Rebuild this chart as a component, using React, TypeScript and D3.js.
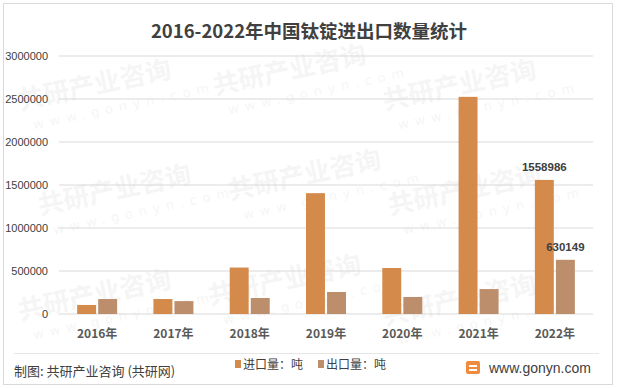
import React from 'react';
import * as d3 from 'd3';

const WIDTH = 617;
const HEIGHT = 389;

const MARGIN = { top: 56, right: 24, bottom: 75, left: 59 };

const years = ['2016年', '2017年', '2018年', '2019年', '2020年', '2021年', '2022年'];
const importValues = [105000, 174000, 540000, 1405000, 535000, 2525000, 1558986];
const exportValues = [174000, 150000, 186000, 256000, 198000, 290000, 630149];
const yTicks = [0, 500000, 1000000, 1500000, 2000000, 2500000, 3000000];
const labelledYear = '2022年';

const IMPORT_COLOR = '#D38A4B';
const EXPORT_COLOR = '#BD8E6C';
const FONT = '"Noto Sans CJK SC", "Noto Sans", sans-serif';

// faint background watermark positions
const watermarks = [
  [20, 110], [215, 95], [385, 110], [40, 215], [230, 200], [390, 215],
  [20, 320], [210, 305], [385, 325],
];

export default function App() {
  const x = d3.scaleBand()
    .domain(years)
    .range([MARGIN.left, WIDTH - MARGIN.right])
    .paddingInner(0)
    .paddingOuter(0);

  const y = d3.scaleLinear()
    .domain([0, 3000000])
    .range([HEIGHT - MARGIN.bottom, MARGIN.top]);

  const series = ['import', 'export'];
  const sub = d3.scaleBand()
    .domain(series)
    .range([0, 40])
    .paddingInner(0.1);

  const barOffset = (x.bandwidth() - 40) / 2;

  return (
    <svg width={WIDTH} height={HEIGHT} style={{ position: 'absolute', left: 0, top: 0, background: '#fff' }}>
      <rect x={3.5} y={3.5} width={609} height={381} fill="#fff" stroke="#d9d9d9" />

      {watermarks.map(([wx, wy], i) => (
        <g key={i} transform={`translate(${wx},${wy}) rotate(-12)`} opacity={0.035}>
          <text fontFamily={FONT} fontSize={26} fontWeight="bold" fill="#000">共研产业咨询</text>
          <text x={10} y={22} fontFamily="DejaVu Sans" fontSize={13} letterSpacing={6} fill="#000">www.gonyn.com</text>
        </g>
      ))}

      <text x={309} y={38} textAnchor="middle" fontFamily={FONT} fontWeight="bold" fontSize={18.5} fill="#404040">
        2016-2022年中国钛锭进出口数量统计
      </text>

      {yTicks.map(t => (
        <g key={t}>
          <line x1={MARGIN.left} x2={WIDTH - MARGIN.right} y1={y(t)} y2={y(t)} stroke="#d9d9d9" strokeWidth={1} />
          <text x={48} y={y(t)} dy="0.35em" textAnchor="end" fontFamily="Liberation Sans, sans-serif" fontSize={11} fill="#404040">
            {t}
          </text>
        </g>
      ))}

      {years.map((yr, i) => {
        const x0 = (x(yr) as number) + barOffset;
        return (
          <g key={yr}>
            <rect x={x0 + (sub('import') as number)} y={y(importValues[i])} width={sub.bandwidth()}
              height={y(0) - y(importValues[i])} fill={IMPORT_COLOR} />
            <rect x={x0 + (sub('export') as number)} y={y(exportValues[i])} width={sub.bandwidth()}
              height={y(0) - y(exportValues[i])} fill={EXPORT_COLOR} />
            <text x={(x(yr) as number) + x.bandwidth() / 2} y={338} textAnchor="middle"
              fontFamily={FONT} fontWeight="bold" fontSize={12} fill="#595959">
              {yr}
            </text>
            {yr === labelledYear && (
              <>
                <text x={x0 + (sub('import') as number) + sub.bandwidth() / 2} y={y(importValues[i]) - 9}
                  textAnchor="middle" fontFamily="Liberation Sans, sans-serif" fontWeight="bold" fontSize={11.5} fill="#404040">
                  {importValues[i]}
                </text>
                <text x={x0 + (sub('export') as number) + sub.bandwidth() / 2} y={y(exportValues[i]) - 9}
                  textAnchor="middle" fontFamily="Liberation Sans, sans-serif" fontWeight="bold" fontSize={11.5} fill="#404040">
                  {exportValues[i]}
                </text>
              </>
            )}
          </g>
        );
      })}

      <line x1={14} x2={599} y1={353.5} y2={353.5} stroke="#e6e6e6" />
      <text x={14} y={376} fontFamily={FONT} fontSize={13} fill="#404040">制图: 共研产业咨询 (共研网)</text>

      <rect x={235} y={360} width={6} height={8} fill={IMPORT_COLOR} />
      <text x={243} y={369} fontFamily={FONT} fontSize={12} fill="#404040">进口量：吨</text>
      <rect x={318} y={360} width={6} height={8} fill={EXPORT_COLOR} />
      <text x={326} y={369} fontFamily={FONT} fontSize={12} fill="#404040">出口量：吨</text>

      <g transform="translate(466,361)">
        <rect width={14} height={13} rx={2} fill="#F08A3C" />
        <rect x={3} y={4} width={8} height={2} fill="#fff" />
        <rect x={3} y={8} width={8} height={2} fill="#fff" />
      </g>
      <text x={489} y={373} fontFamily="Liberation Sans, sans-serif" fontSize={14} fill="#404040">www.gonyn.com</text>
    </svg>
  );
}
